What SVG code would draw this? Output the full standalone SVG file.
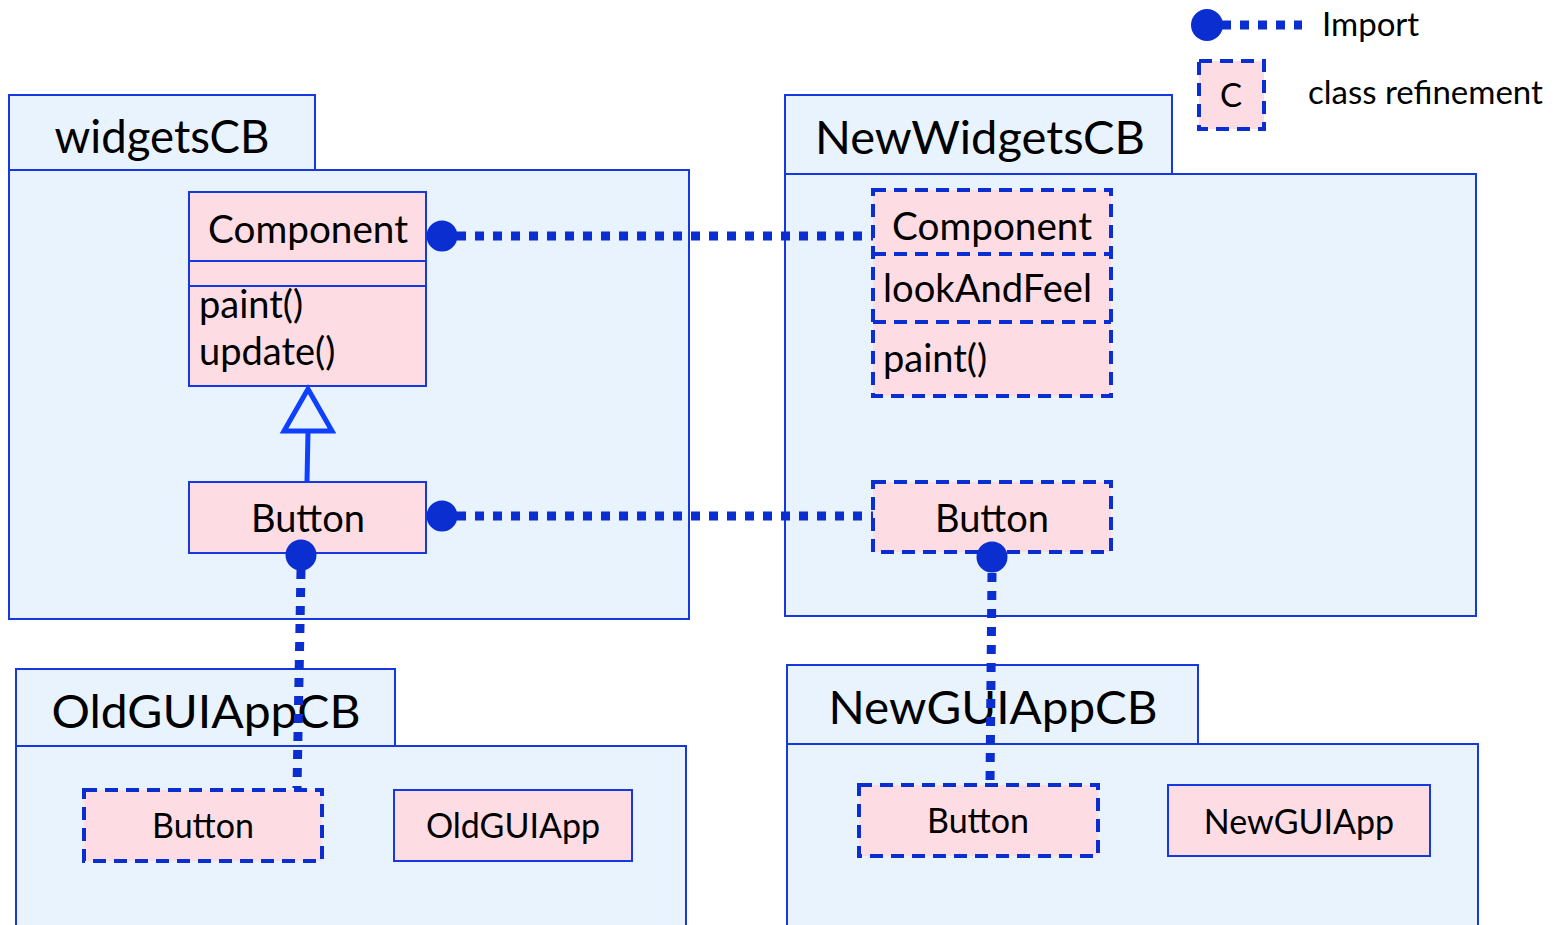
<svg xmlns="http://www.w3.org/2000/svg" width="1559" height="925" viewBox="0 0 1559 925">
  <style>
    .pkg { fill: #E9F3FE; stroke: #1638E0; stroke-width: 2; }
    .cls { fill: #FDDDE3; stroke: #1638E0; stroke-width: 2; }
    .ref { fill: #FDDDE3; stroke: #0A2ECF; stroke-width: 4; stroke-dasharray: 13 8; }
    .refline { fill: none; stroke: #0A2ECF; stroke-width: 4; stroke-dasharray: 13 8; }
    .sep { stroke: #1638E0; stroke-width: 2; }
    .imp { fill: none; stroke: #0A2ECF; stroke-width: 9; stroke-dasharray: 9 9; }
    .dot { fill: #0A2ECF; }
    .gen { fill: none; stroke: #1040FF; stroke-width: 5; }
    text { font-family: Lato, "Open Sans", "Liberation Sans", sans-serif; fill: #000; }
    .title { font-size: 47px; text-anchor: middle; }
    .name { font-size: 38px; text-anchor: middle; }
    .member { font-size: 38px; }
    .small { font-size: 34px; text-anchor: middle; }
    .legend { font-size: 33px; }
  </style>

  <!-- Legend -->
  <g id="legend">
    <line class="imp" x1="1222" y1="25" x2="1302" y2="25"/>
    <circle class="dot" cx="1207" cy="25" r="16"/>
    <text class="legend" x="1322" y="36">Import</text>
    <rect class="ref" x="1199" y="61" width="65" height="68"/>
    <text class="legend" x="1231" y="107" text-anchor="middle">C</text>
    <text class="legend" x="1308" y="104">class refinement</text>
  </g>

  <!-- Package widgetsCB -->
  <g id="widgetsCB">
    <rect class="pkg" x="9" y="95" width="306" height="75"/>
    <rect class="pkg" x="9" y="170" width="680" height="449"/>
    <text class="title" x="162" y="153" textLength="215" lengthAdjust="spacingAndGlyphs">widgetsCB</text>
  </g>

  <!-- Package NewWidgetsCB -->
  <g id="NewWidgetsCB">
    <rect class="pkg" x="785" y="95" width="387" height="79"/>
    <rect class="pkg" x="785" y="174" width="691" height="442"/>
    <text class="title" x="980" y="154" textLength="330" lengthAdjust="spacingAndGlyphs">NewWidgetsCB</text>
  </g>

  <!-- Package OldGUIAppCB -->
  <g id="OldGUIAppCB">
    <rect class="pkg" x="16" y="669" width="379" height="77"/>
    <rect class="pkg" x="16" y="746" width="670" height="200"/>
    <text class="title" x="206" y="728" textLength="309" lengthAdjust="spacingAndGlyphs">OldGUIAppCB</text>
  </g>

  <!-- Package NewGUIAppCB -->
  <g id="NewGUIAppCB">
    <rect class="pkg" x="787" y="665" width="411" height="79"/>
    <rect class="pkg" x="787" y="744" width="691" height="200"/>
    <text class="title" x="993" y="724" textLength="329" lengthAdjust="spacingAndGlyphs">NewGUIAppCB</text>
  </g>

  <!-- widgetsCB::Component -->
  <g id="widgets-Component">
    <rect class="cls" x="189" y="192" width="237" height="194"/>
    <line class="sep" x1="189" y1="261" x2="426" y2="261"/>
    <line class="sep" x1="189" y1="286" x2="426" y2="286"/>
    <text class="name" x="308" y="243" textLength="200" lengthAdjust="spacingAndGlyphs">Component</text>
    <text class="member" x="199" y="318">paint()</text>
    <text class="member" x="199" y="365">update()</text>
  </g>

  <!-- widgetsCB::Button -->
  <g id="widgets-Button">
    <rect class="cls" x="189" y="482" width="237" height="71"/>
    <text class="name" x="308" y="532">Button</text>
  </g>

  <!-- NewWidgetsCB::Component (refinement) -->
  <g id="newwidgets-Component">
    <rect class="ref" x="873" y="190" width="238" height="206"/>
    <line class="refline" x1="873" y1="254" x2="1111" y2="254"/>
    <line class="refline" x1="873" y1="322" x2="1111" y2="322"/>
    <text class="name" x="992" y="240" textLength="200" lengthAdjust="spacingAndGlyphs">Component</text>
    <text class="member" x="883" y="302" textLength="209" lengthAdjust="spacingAndGlyphs">lookAndFeel</text>
    <text class="member" x="883" y="372">paint()</text>
  </g>

  <!-- NewWidgetsCB::Button (refinement) -->
  <g id="newwidgets-Button">
    <rect class="ref" x="873" y="482" width="238" height="70"/>
    <text class="name" x="992" y="532">Button</text>
  </g>

  <!-- OldGUIAppCB classes -->
  <g id="oldgui-Button">
    <rect class="ref" x="84" y="790" width="238" height="71"/>
    <text class="small" x="203" y="838">Button</text>
  </g>
  <g id="oldgui-OldGUIApp">
    <rect class="cls" x="394" y="790" width="238" height="71"/>
    <text class="small" x="513" y="838">OldGUIApp</text>
  </g>

  <!-- NewGUIAppCB classes -->
  <g id="newgui-Button">
    <rect class="ref" x="859" y="785" width="239" height="71"/>
    <text class="small" x="978" y="833">Button</text>
  </g>
  <g id="newgui-NewGUIApp">
    <rect class="cls" x="1168" y="785" width="262" height="71"/>
    <text class="small" x="1299" y="834">NewGUIApp</text>
  </g>

  <!-- Connectors -->
  <g id="connectors">
    <!-- generalization Button -> Component -->
    <line class="gen" x1="307" y1="481" x2="308" y2="432"/>
    <polygon class="gen" points="308,389 284,431 332,431"/>

    <!-- imports -->
    <line class="imp" x1="457" y1="236" x2="873" y2="236"/>
    <circle class="dot" cx="442" cy="236" r="15.5"/>

    <line class="imp" x1="457" y1="516" x2="873" y2="516"/>
    <circle class="dot" cx="442" cy="516" r="15.5"/>

    <line class="imp" x1="301" y1="570" x2="297" y2="788"/>
    <circle class="dot" cx="301" cy="555" r="15.5"/>

    <line class="imp" x1="992" y1="573" x2="990" y2="785"/>
    <circle class="dot" cx="992" cy="557" r="15.5"/>
  </g>
</svg>
